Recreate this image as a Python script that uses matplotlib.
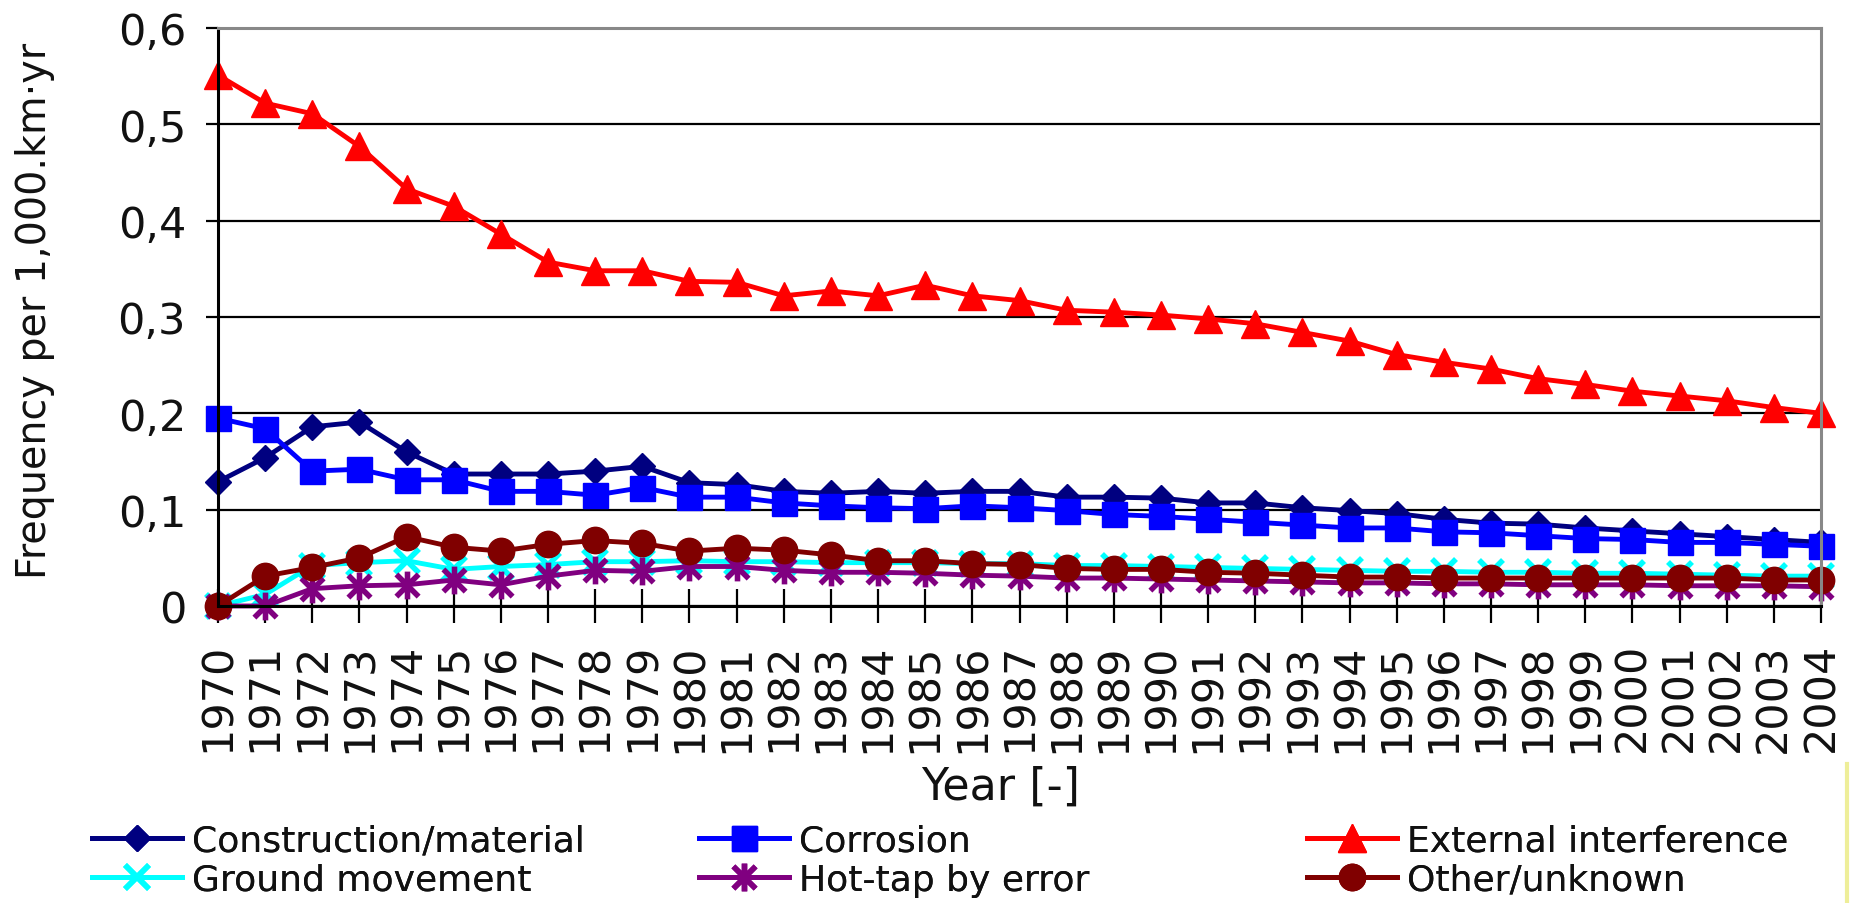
import matplotlib
matplotlib.use('Agg')
import matplotlib.pyplot as plt
from matplotlib.path import Path
from matplotlib.lines import Line2D

# ---------------- data ----------------
years = list(range(1970, 2005))
year_labels = [str(y) for y in years]

construction = [0.129, 0.154, 0.186, 0.191, 0.160, 0.137, 0.137, 0.137, 0.140, 0.145,
                0.128, 0.126, 0.119, 0.117, 0.119, 0.117, 0.119, 0.119, 0.113, 0.113,
                0.112, 0.107, 0.107, 0.102, 0.099, 0.096, 0.090, 0.086, 0.085, 0.081,
                0.078, 0.075, 0.072, 0.069, 0.066]
corrosion = [0.195, 0.184, 0.140, 0.142, 0.131, 0.131, 0.119, 0.119, 0.115, 0.123,
             0.113, 0.113, 0.107, 0.104, 0.102, 0.101, 0.104, 0.102, 0.099, 0.095,
             0.093, 0.090, 0.087, 0.084, 0.081, 0.081, 0.077, 0.076, 0.073, 0.070,
             0.069, 0.066, 0.066, 0.064, 0.062]
external = [0.551, 0.522, 0.511, 0.477, 0.433, 0.415, 0.386, 0.357, 0.348, 0.348,
            0.337, 0.336, 0.322, 0.327, 0.322, 0.333, 0.322, 0.317, 0.307, 0.305,
            0.302, 0.298, 0.293, 0.284, 0.275, 0.261, 0.253, 0.246, 0.236, 0.230,
            0.223, 0.218, 0.213, 0.206, 0.200]
ground = [0.000, 0.012, 0.042, 0.045, 0.047, 0.038, 0.041, 0.043, 0.046, 0.046,
          0.047, 0.046, 0.046, 0.045, 0.045, 0.045, 0.044, 0.044, 0.042, 0.042,
          0.041, 0.040, 0.039, 0.038, 0.037, 0.036, 0.036, 0.035, 0.035, 0.034,
          0.034, 0.033, 0.032, 0.031, 0.031]
hottap = [0.000, 0.000, 0.018, 0.021, 0.022, 0.027, 0.022, 0.031, 0.037, 0.036,
          0.041, 0.041, 0.037, 0.035, 0.035, 0.034, 0.032, 0.031, 0.029, 0.029,
          0.028, 0.027, 0.026, 0.025, 0.024, 0.024, 0.023, 0.023, 0.022, 0.022,
          0.022, 0.021, 0.021, 0.021, 0.020]
other = [0.000, 0.031, 0.040, 0.050, 0.072, 0.061, 0.057, 0.064, 0.068, 0.065,
         0.057, 0.060, 0.058, 0.053, 0.047, 0.047, 0.044, 0.043, 0.039, 0.038,
         0.038, 0.035, 0.034, 0.032, 0.030, 0.030, 0.029, 0.029, 0.029, 0.029,
         0.029, 0.029, 0.029, 0.027, 0.027]

series_names = ["Construction/material", "Corrosion", "External interference",
                "Ground movement", "Hot-tap by error", "Other/unknown"]

y_ticks = [0, 0.1, 0.2, 0.3, 0.4, 0.5, 0.6]
y_tick_labels = ["0", "0,1", "0,2", "0,3", "0,4", "0,5", "0,6"]

# ---------------- styles ----------------
asterisk = Path([(0, -1), (0, 1), (-0.8, -0.8), (0.8, 0.8), (-0.8, 0.8), (0.8, -0.8)],
                [Path.MOVETO, Path.LINETO, Path.MOVETO, Path.LINETO, Path.MOVETO, Path.LINETO])

styles = [
    dict(color="#000080", marker="D", ms=13, mfc="#000080", mec="#000080", mew=1),
    dict(color="#0000FF", marker="s", ms=18, mfc="#0000FF", mec="#0000FF", mew=1),
    dict(color="#FF0000", marker="^", ms=20, mfc="#FF0000", mec="#FF0000", mew=1),
    dict(color="#00FFFF", marker="x", ms=17, mfc="none", mec="#00FFFF", mew=4),
    dict(color="#800080", marker=asterisk, ms=20, mfc="none", mec="#800080", mew=4),
    dict(color="#800000", marker="o", ms=19, mfc="#800000", mec="#800000", mew=1),
]
data = [construction, corrosion, external, ground, hottap, other]

FIG_W, FIG_H = 1852, 904
fig = plt.figure(figsize=(FIG_W / 100, FIG_H / 100), dpi=100)
L, R, T, B = 218, 1821, 29, 607
ax = fig.add_axes([L / FIG_W, 1 - B / FIG_H, (R - L) / FIG_W, (B - T) / FIG_H])

handles = []
for vals, st, name in zip(data, styles, series_names):
    h, = ax.plot(years, vals, lw=3.5, linestyle='-', clip_on=False, label=name, **st)
    handles.append(h)

ax.set_xlim(1970, 2004)
ax.set_ylim(0, 0.6)
ax.set_yticks(y_ticks)
ax.set_yticklabels(y_tick_labels)
ax.set_xticks(years)
ax.set_xticklabels(year_labels, rotation=90)

ax.yaxis.grid(True, color="black", lw=1.6)
ax.set_axisbelow(True)

for s in ["left", "bottom"]:
    ax.spines[s].set_color("black")
    ax.spines[s].set_linewidth(2.2)
for s in ["top", "right"]:
    ax.spines[s].set_color("#888888")
    ax.spines[s].set_linewidth(2.2)

ax.tick_params(axis="x", direction="inout", length=24, width=1.6, labelsize=31,
               pad=14, colors="black")
ax.tick_params(axis="y", direction="out", length=9, width=1.6, labelsize=31,
               pad=14, colors="black")
for lab in ax.get_xticklabels() + ax.get_yticklabels():
    lab.set_color("#111111")

ax.set_xlabel("Year [-]", fontsize=32, color="#111111")
ax.xaxis.set_label_coords(0.488, -0.275)
ax.set_ylabel("Frequency per 1,000.km\u00b7yr", fontsize=28.5, color="#111111")
ax.yaxis.set_label_coords(-0.1017, 0.512)

# legend: three columns placed like the original
col_x = [92, 699, 1307]
col_items = [(0, 3), (1, 4), (2, 5)]
for cx, (i, j) in zip(col_x, col_items):
    leg = fig.legend([handles[i], handles[j]], [series_names[i], series_names[j]],
                     loc="center left", bbox_to_anchor=(cx / FIG_W, 1 - 861 / FIG_H),
                     frameon=False, fontsize=26, handlelength=2.5, handletextpad=0.28,
                     labelspacing=0.15, borderpad=0, borderaxespad=0)
    for t in leg.get_texts():
        t.set_color("#111111")
    fig.add_artist(leg)

# faint yellow edge line seen at the right of the original
fig.add_artist(Line2D([1847 / FIG_W, 1847 / FIG_W], [0, 1 - 765 / FIG_H],
                      transform=fig.transFigure, color="#eeee99", lw=3))

fig.savefig("out.png", dpi=100)
